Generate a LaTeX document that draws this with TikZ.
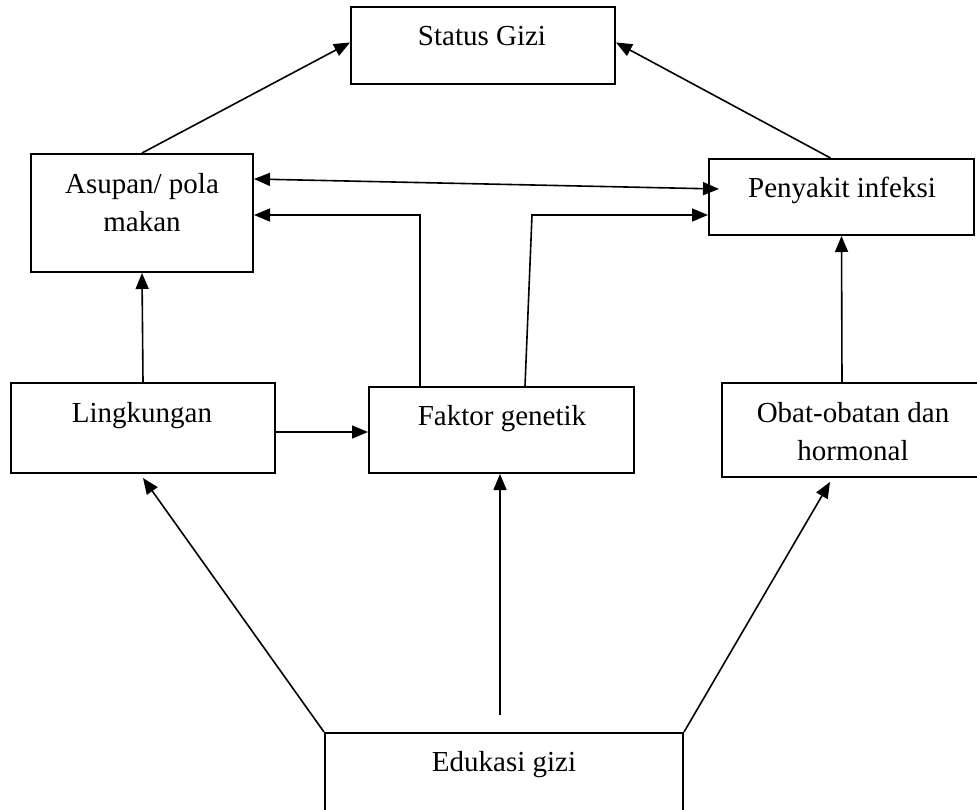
\documentclass[tikz,border=0pt]{standalone}
\usepackage{fontspec}
\setmainfont{Liberation Serif}
\usetikzlibrary{arrows.meta}
\tikzset{
  boxnode/.style={draw=black, line width=2pt, inner sep=0pt, fill=none},
  txt/.style={anchor=base, align=center, inner sep=0pt, font=\fontsize{29}{38}\selectfont},
  arr/.style={line width=1.6pt, -{Triangle[length=16pt,width=13pt]}},
  darr/.style={line width=1.6pt, {Triangle[length=16pt,width=13pt]}-{Triangle[length=16pt,width=13pt]}}
}
\begin{document}
\begin{tikzpicture}[x=1pt,y=-1pt]
\useasboundingbox[fill=white] (0,0) rectangle (977,809);
% boxes
\node[boxnode, minimum width=264pt, minimum height=77pt] (sg) at (483,45.5) {};
\node[boxnode, minimum width=222pt, minimum height=118pt] (asu) at (142,213) {};
\node[boxnode, minimum width=265pt, minimum height=76pt] (pen) at (841.5,197) {};
\node[boxnode, minimum width=264pt, minimum height=90pt] (lin) at (143,428) {};
\node[boxnode, minimum width=265pt, minimum height=86pt] (fak) at (501.5,430) {};
\node[boxnode, minimum width=263pt, minimum height=94pt] (obt) at (853.5,430) {};
\node[boxnode, minimum width=358pt, minimum height=87pt] (edu) at (504,776.5) {};
% texts
\node[txt] (tsg) at (482,45) {Status Gizi};
\node[txt] (tasu) at (142,231) {Asupan/ pola\\makan};
\node[txt] (tpen) at (842,197) {Penyakit infeksi};
\node[txt] (tlin) at (142,422) {Lingkungan};
\node[txt] (tfak) at (502,425) {Faktor genetik};
\node[txt] (tobt) at (853,460) {Obat-obatan dan\\hormonal};
\node[txt] (tedu) at (504,771) {Edukasi gizi};
% connectors
\draw[arr] (asu.north) -- ([yshift=3pt]sg.west);
\draw[arr] ([xshift=-11pt]pen.north) -- ([yshift=3pt]sg.east);
\draw[darr] ([yshift=34pt]asu.east) -- ([xshift=11pt,yshift=8pt]pen.west);
\draw[arr] ([xshift=-81.5pt]fak.north) |- ([yshift=-2pt]asu.east);
\coordinate (kr) at (532,215);
\draw[arr] ([xshift=23.5pt]fak.north) -- (kr) -- ([yshift=-18pt]pen.west);
\draw[arr] (lin.north) -- (asu.south);
\draw[arr] ([yshift=-4pt]lin.east) -- ([yshift=-4pt]lin.east -| fak.west);
\draw[arr] ([xshift=-11.5pt]obt.north) -- (pen.south);
\draw[arr] (edu.north west) -- ([yshift=-4pt]lin.south);
\coordinate (em) at (500,715);
\draw[arr] (em) -- (em |- fak.south);
\draw[arr] (edu.north east) -- ([xshift=-23.5pt,yshift=-4pt]obt.south);
\end{tikzpicture}
\end{document}
